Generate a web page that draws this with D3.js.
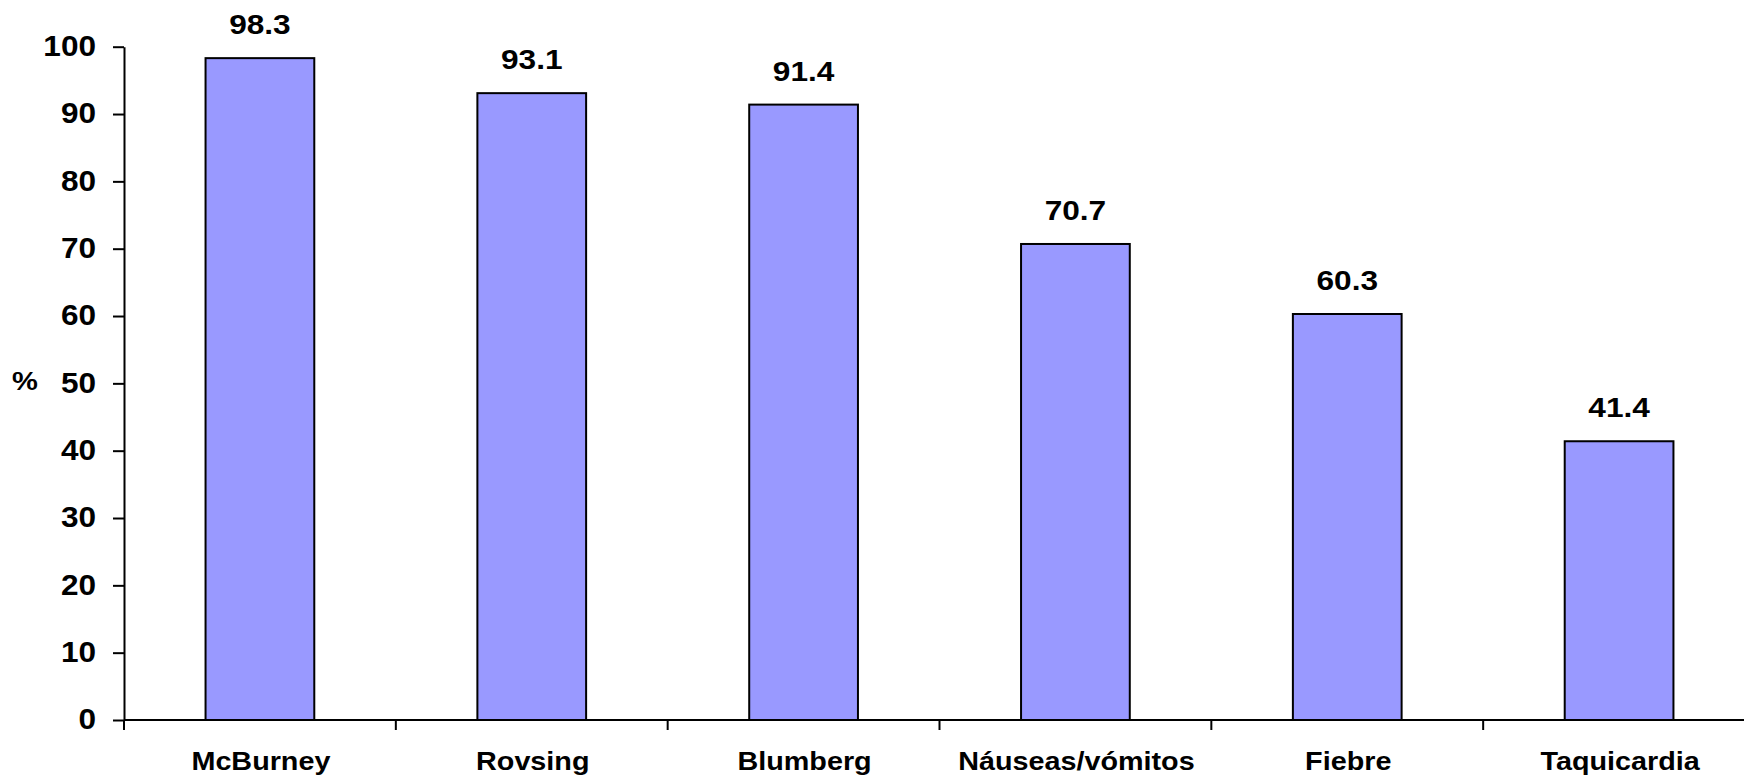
<!DOCTYPE html>
<html>
<head>
<meta charset="utf-8">
<script src="https://cdn.jsdelivr.net/npm/d3@7"></script>
<style>
  html, body { margin: 0; padding: 0; background: #fff; }
  svg { display: block; }
  text { font-family: "Liberation Sans", Arial, sans-serif; font-weight: bold; fill: #000; }
</style>
</head>
<body>
<script>
const categories = ["McBurney", "Rovsing", "Blumberg", "Náuseas/vómitos", "Fiebre", "Taquicardia"];
const values = [98.3, 93.1, 91.4, 70.7, 60.3, 41.4];
const yTicks = [0, 10, 20, 30, 40, 50, 60, 70, 80, 90, 100];
const yLabel = "%";

const W = 1744, H = 781;
const m = { left: 124, right: 1755, top: 46.7, bottom: 720 };

const svg = d3.select("body").append("svg").attr("width", W).attr("height", H);

const x = d3.scaleBand().domain(categories).range([m.left, m.right]).paddingInner(0).paddingOuter(0);
const y = d3.scaleLinear().domain([0, 100]).range([m.bottom, m.top]);
const barW = x.step() / 2.5;

// bars
svg.append("g").selectAll("rect").data(values).join("rect")
  .attr("x", (d, i) => x(categories[i]) + (x.step() - barW) / 2)
  .attr("y", d => y(d))
  .attr("width", barW)
  .attr("height", d => y(0) - y(d))
  .attr("fill", "#9999FF")
  .attr("stroke", "#000")
  .attr("stroke-width", 2);

// value labels (slightly wide lettering)
svg.append("g").selectAll("text").data(values).join("text")
  .attr("transform", (d, i) => `translate(${x(categories[i]) + x.step() / 2},${y(d) - 24}) scale(1.13,1)`)
  .attr("text-anchor", "middle")
  .attr("font-size", 28)
  .text(d => d.toFixed(1));

// y axis
const yAxis = svg.append("g").attr("transform", `translate(${m.left},0)`)
  .call(d3.axisLeft(y).tickValues(yTicks).tickSize(11).tickSizeOuter(0));
yAxis.select(".domain").attr("stroke", "#000").attr("stroke-width", 2);
yAxis.selectAll(".tick line").attr("stroke", "#000").attr("stroke-width", 2);
yAxis.selectAll(".tick text")
  .attr("x", null)
  .attr("dy", "0.3em")
  .attr("transform", "translate(-28,0) scale(1.07,1)")
  .attr("font-size", 29.5)
  .attr("font-family", null)
  .attr("fill", "#000");

// extend the y axis line below the baseline
svg.append("line").attr("x1", m.left).attr("x2", m.left).attr("y1", m.bottom).attr("y2", m.bottom + 10)
  .attr("stroke", "#000").attr("stroke-width", 2);

// x axis with ticks between categories
const xAxis = svg.append("g").attr("transform", `translate(0,${m.bottom})`);
xAxis.append("line").attr("x1", m.left).attr("x2", m.right).attr("stroke", "#000").attr("stroke-width", 2);
xAxis.selectAll("line.tk").data(categories.slice(1)).join("line").attr("class", "tk")
  .attr("x1", d => x(d)).attr("x2", d => x(d)).attr("y1", 0).attr("y2", 10)
  .attr("stroke", "#000").attr("stroke-width", 2);
xAxis.selectAll("text").data(categories).join("text")
  .attr("transform", d => `translate(${x(d) + x.step() / 2 + 1},50) scale(1.15,1)`)
  .attr("text-anchor", "middle")
  .attr("font-size", 25)
  .text(d => d);

// y axis title
svg.append("text")
  .attr("transform", `translate(25,${y(50) + 7}) scale(1.12,1)`)
  .attr("text-anchor", "middle").attr("font-size", 26).text(yLabel);
</script>
</body>
</html>
